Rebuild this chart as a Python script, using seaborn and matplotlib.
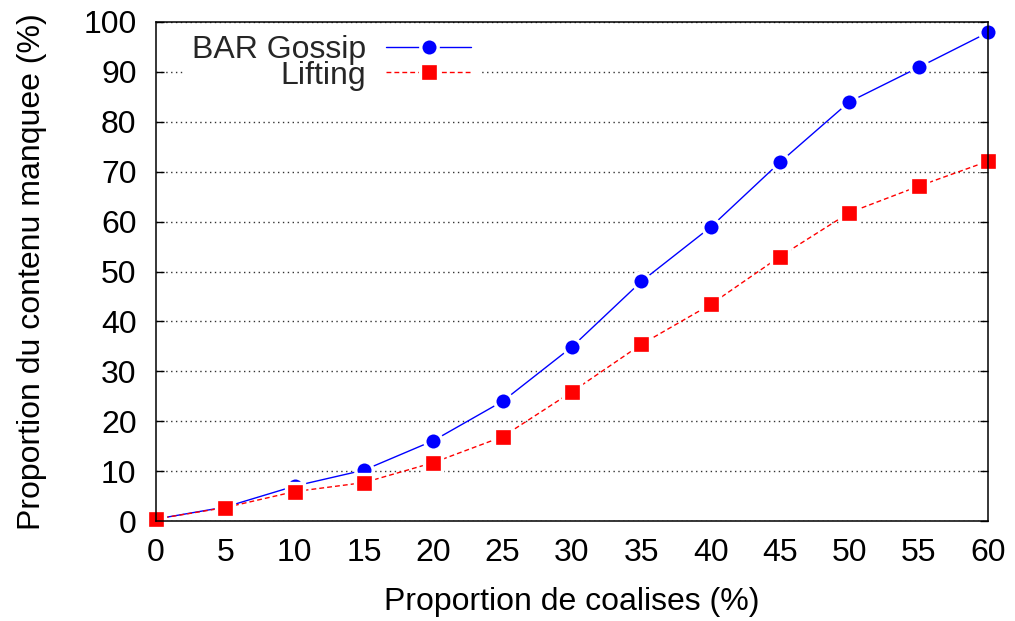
import matplotlib
matplotlib.use("Agg")
import matplotlib.pyplot as plt
import seaborn as sns
import pandas as pd

# Proportion of colluding nodes (%)
coalition = [0, 5, 10, 15, 20, 25, 30, 35, 40, 45, 50, 55, 60]
# Proportion of missed content (%)
bar_gossip = [0.4, 2.8, 7.0, 10.2, 16.1, 24.0, 34.9, 48.0, 58.9, 71.9, 84.0, 90.9, 97.9]
lifting = [0.4, 2.7, 5.9, 7.7, 11.7, 16.9, 25.9, 35.4, 43.4, 53.0, 61.8, 67.1, 72.1]

series_names = ["BAR Gossip", "Lifting"]
xlabel = "Proportion de coalises (%)"
ylabel = "Proportion du contenu manquee (%)"
yticks = [0, 10, 20, 30, 40, 50, 60, 70, 80, 90, 100]

df = pd.DataFrame({
    "x": coalition * 2,
    "y": bar_gossip + lifting,
    "series": [series_names[0]] * len(coalition) + [series_names[1]] * len(coalition),
})

sns.set_theme(style="white")
plt.rcParams["font.family"] = ["Liberation Sans", "DejaVu Sans"]
FS = 23
plt.rcParams["font.size"] = FS

fig = plt.figure(figsize=(10.15, 6.21), dpi=100)
ax = fig.add_axes([0.1537, 0.161, 0.8197, 0.8036])

sns.lineplot(
    data=df, x="x", y="y", hue="series", style="series",
    palette={series_names[0]: "#0000ff", series_names[1]: "#ff0000"},
    markers={series_names[0]: "o", series_names[1]: "s"},
    dashes={series_names[0]: "", series_names[1]: (3.5, 2.2)},
    markersize=12.5, markeredgecolor="white", markeredgewidth=2.4,
    linewidth=1.0, clip_on=False, legend=False, ax=ax,
)

ax.set_xlim(0, 60)
ax.set_ylim(0, 100)
ax.set_xticks(coalition)
ax.set_yticks(yticks)
ax.tick_params(axis="x", length=0, pad=12, labelsize=FS, colors="black")
ax.tick_params(axis="y", direction="in", length=6, width=1, pad=14,
               labelsize=FS, colors="black", left=True, right=True)
ax.set_xlabel(xlabel, fontsize=FS, labelpad=14, color="black")
ax.set_ylabel(ylabel, fontsize=FS, labelpad=26, color="black")

ax.yaxis.grid(True, linestyle=(0, (1, 2.5)), color="#333333", linewidth=1.0)
ax.xaxis.grid(False)
ax.set_axisbelow(True)
for s in ax.spines.values():
    s.set_color("black")
    s.set_linewidth(1.1)
    s.set_zorder(5)

leg = ax.legend(
    handles=ax.lines[:2], labels=series_names, loc="upper left",
    bbox_to_anchor=(0.032, 0.993), markerfirst=False, numpoints=1,
    handlelength=2.66, handletextpad=0.63, labelspacing=-0.14,
    borderpad=0.3, borderaxespad=0.0, frameon=True, fontsize=FS,
)
leg.get_frame().set_facecolor("white")
leg.get_frame().set_edgecolor("none")
leg.get_frame().set_alpha(1.0)
leg.set_zorder(4)

fig.savefig("out.png", dpi=100)
